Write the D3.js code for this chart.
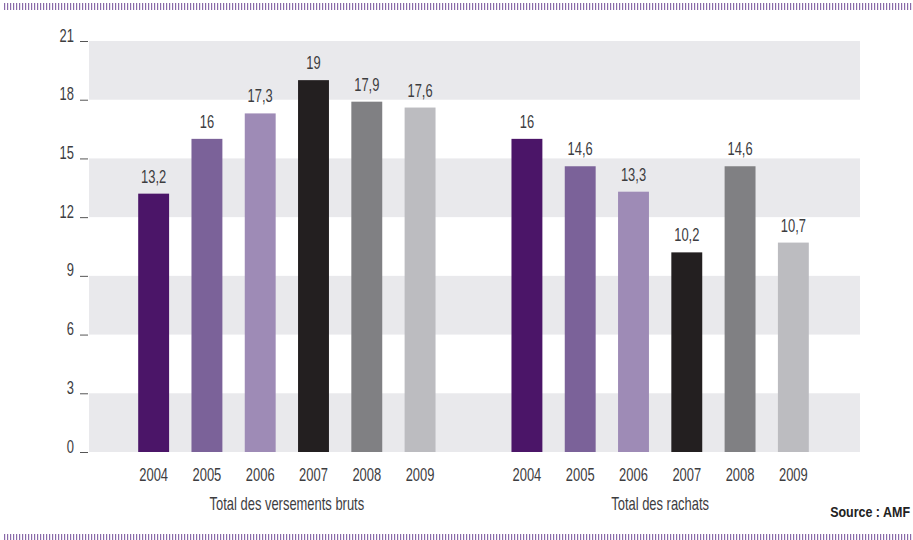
<!DOCTYPE html>
<html>
<head>
<meta charset="utf-8">
<script src="https://cdn.jsdelivr.net/npm/d3@7"></script>
<style>
  body { margin: 0; background: #fff; }
  svg { display: block; }
  text { font-family: "Liberation Sans", Arial, sans-serif; fill: #3d3d3f; }
</style>
</head>
<body>
<svg id="chart" width="913" height="540"></svg>
<script>
// Flux des contrats (Md€), 2004-2009
const groups = ["Total des versements bruts", "Total des rachats"];
const years = ["2004", "2005", "2006", "2007", "2008", "2009"];
const versements = [13.2, 16, 17.3, 19, 17.9, 17.6];
const rachats = [16, 14.6, 13.3, 10.2, 14.6, 10.7];
const yTicks = [0, 3, 6, 9, 12, 15, 18, 21];
const yearColors = ["#4b1568", "#7b6299", "#9e8bb6", "#231f20", "#808083", "#bcbcc0"];

const seriesByGroup = [versements, rachats];

const svg = d3.select("#chart");
const W = 913;
const plot = { left: 89, right: 860, top: 41, bottom: 452 };
const SQUEEZE = 0.74; // narrow the sans face horizontally
const FS = 17.5;

const y = d3.scaleLinear().domain([0, 21]).range([plot.bottom, plot.top]);
const x0 = d3.scaleBand().domain(groups).range([127, 820]).paddingInner(0.1435);
const x1 = d3.scaleBand().domain(years).range([0, x0.bandwidth()]).paddingInner(0.42).paddingOuter(0.21);
const color = d3.scaleOrdinal().domain(years).range(yearColors);
const fmt = v => String(v).replace(".", ",");

// narrow text label placed at (x, y)
function label(parent, x, yPos, txt, anchor) {
  return parent.append("text")
    .attr("transform", `translate(${x},${yPos}) scale(${SQUEEZE},1)`)
    .attr("text-anchor", anchor || "middle")
    .attr("font-size", FS)
    .text(txt);
}

// hatched borders top and bottom
function hatch(yPos) {
  const xs = d3.range(4, W - 2, 3);
  svg.append("g").selectAll("rect").data(xs).join("rect")
    .attr("x", d => d).attr("y", yPos).attr("width", 1.2).attr("height", 7)
    .attr("fill", "#8a6aa9");
}
hatch(3);
hatch(534);

// alternating background bands
const bands = [0, 6, 12, 18];
svg.append("g").selectAll("rect").data(bands).join("rect")
  .attr("x", plot.left).attr("width", plot.right - plot.left)
  .attr("y", d => y(d + 3)).attr("height", d => y(d) - y(d + 3))
  .attr("fill", "#e9e9ec");

// y axis
const yAxis = d3.axisLeft(y).tickValues(yTicks).tickSize(8).tickFormat("");
const ya = svg.append("g").attr("transform", `translate(${plot.left - 1},0)`).call(yAxis);
ya.select(".domain").remove();
ya.selectAll(".tick line").attr("stroke", "#555").attr("stroke-width", 1);
ya.selectAll(".tick").each(function (d) {
  label(d3.select(this), -14, 0, String(d), "end");
});

// bars, values and year labels
const gGroups = svg.append("g").selectAll("g").data(groups).join("g")
  .attr("transform", d => `translate(${x0(d)},0)`);

gGroups.each(function (g, gi) {
  const data = years.map((yr, i) => ({ year: yr, value: seriesByGroup[gi][i] }));
  const sel = d3.select(this);
  sel.selectAll("rect").data(data).join("rect")
    .attr("x", d => x1(d.year)).attr("width", x1.bandwidth())
    .attr("y", d => y(d.value)).attr("height", d => y(0) - y(d.value))
    .attr("fill", d => color(d.year));
  data.forEach(d => {
    const cx = x1(d.year) + x1.bandwidth() / 2;
    label(sel, cx, y(d.value) - 11, fmt(d.value));
    label(sel, cx, 481, d.year);
  });
  label(sel, x0.bandwidth() / 2, 510, g);
});

// source
svg.append("text")
  .attr("transform", "translate(910,517) scale(0.86,1)")
  .attr("text-anchor", "end")
  .attr("font-size", 14.5).attr("font-weight", "bold")
  .style("fill", "#222")
  .text("Source : AMF");
</script>
</body>
</html>
